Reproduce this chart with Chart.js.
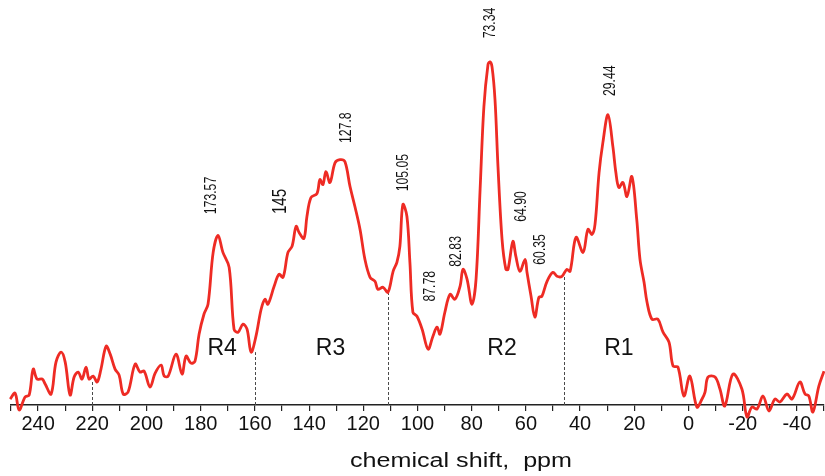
<!DOCTYPE html>
<html>
<head>
<meta charset="utf-8">
<title>13C NMR spectrum</title>
<script src="https://cdn.jsdelivr.net/npm/chart.js@4.4.1/dist/chart.umd.min.js"></script>
<style>
  html, body { margin: 0; padding: 0; background: #ffffff; }
  #nmrChart { display: block; }
</style>
</head>
<body>
<canvas id="nmrChart" width="825" height="476"></canvas>
<script>
// --- data (chemical shift in ppm, intensity in arbitrary units) ---
const shiftPpm = [
    250.3, 248.5, 247.0, 244.8, 243.3, 241.8, 240.4, 238.5, 237.4, 235.2,
    233.4, 231.5, 230.0, 228.2, 226.7, 225.2, 223.8, 222.3, 221.2, 219.7,
    218.2, 216.8, 214.9, 213.4, 211.6, 210.1, 208.6, 206.8, 204.2, 202.4,
    200.9, 198.7, 196.8, 194.6, 193.5, 192.0, 189.1, 186.9, 185.4, 183.6,
    182.1, 180.6, 178.8, 177.3, 175.4, 173.6, 171.8, 169.5, 167.7, 166.2,
    164.4, 162.9, 161.4, 159.6, 157.7, 156.3, 155.2, 152.9, 151.1, 149.6,
    147.8, 146.3, 144.8, 143.7, 141.9, 140.8, 139.3, 137.1, 136.0, 134.9,
    133.8, 132.3, 130.4, 128.6, 126.8, 124.9, 123.1, 121.2, 119.4, 117.5,
    115.7, 114.6, 112.7, 110.9, 109.0, 107.6, 106.5, 105.4, 103.9, 102.8,
    101.7, 100.2, 98.3, 96.1, 94.3, 92.8, 91.7, 89.9, 88.0, 86.2,
    84.3, 83.2, 81.7, 79.9, 78.4, 76.9, 75.5, 74.0, 73.3, 72.5,
    71.4, 70.3, 68.8, 67.4, 66.6, 64.8, 63.7, 62.2, 60.3, 59.6,
    58.1, 56.7, 55.2, 54.1, 52.2, 50.0, 48.5, 46.7, 44.9, 43.7,
    41.5, 38.9, 37.1, 35.6, 34.5, 33.0, 31.6, 29.7, 27.9, 26.8,
    25.7, 24.2, 22.7, 20.9, 19.1, 17.9, 16.4, 15.3, 13.5, 11.3,
    9.4, 7.2, 5.7, 3.9, 1.7, -0.5, -3.1, -5.0, -6.1, -7.2,
    -9.8, -11.6, -13.4, -16.4, -19.7, -21.6, -23.4, -25.3, -27.5, -29.7,
    -31.9, -33.7, -36.3, -38.2, -41.1, -43.0, -44.4, -45.9, -48.1, -50.0
];
const intensity = [
    6, 12, -5, 8, 10, 36, 26, 26, 21, 11,
    43, 53, 43, 10, 28, 33, 26, 38, 26, 29,
    23, 36, 59, 51, 36, 30, 11, 13, 41, 33,
    34, 18, 32, 40, 29, 29, 51, 31, 49, 42,
    44, 71, 91, 101, 153, 170, 153, 138, 76, 73,
    81, 76, 53, 69, 96, 106, 101, 119, 131, 128,
    153, 159, 179, 173, 167, 189, 208, 212, 226, 221,
    234, 223, 243, 246, 244, 219, 199, 176, 146, 128,
    124, 116, 118, 113, 134, 143, 159, 201, 189, 143,
    93, 89, 76, 56, 69, 78, 71, 93, 111, 106,
    119, 136, 126, 101, 126, 216, 299, 341, 344, 339,
    306, 239, 166, 136, 136, 164, 149, 134, 146, 133,
    109, 88, 108, 109, 124, 133, 129, 129, 136, 134,
    168, 153, 176, 171, 181, 233, 263, 291, 259, 233,
    218, 223, 209, 229, 186, 146, 123, 103, 86, 86,
    73, 63, 39, 38, 9, 29, -2, 6, 13, 28,
    28, 16, -1, 31, 16, -12, -2, -4, 9, -6,
    6, 3, 11, 6, 23, 11, 9, -7, 19, 34
];

// peak assignments written on the spectrum
const peakLabels = ['173.57', '145', '127.8', '105.05', '87.78', '82.83', '73.34', '64.90', '60.35', '29.44'];
// spectral regions and the shifts that separate them
const regionLabels = ['R4', 'R3', 'R2', 'R1'];
const boundaryPpm = [220, 160, 111, 46];
const boundaryTop = [24, 53, 113, 129];
// labelled ticks on the shift axis
const tickLabels = [240, 220, 200, 180, 160, 140, 120, 100, 80, 60, 40, 20, 0, -20, -40];

// where the text sits, in axis units (ppm, intensity)
const peakLabelSpots = [
    [176.2, 210], [150.5, 204], [126.4, 278], [105.2, 233], [95.4, 119],
    [85.6, 154], [73.3, 383], [61.8, 199], [54.8, 156], [29.0, 325]
];
const regionLabelSpots = [[172.1, 56], [132.1, 56], [68.8, 56], [25.7, 56]];

const FONT = '"Liberation Sans", Arial, Helvetica, sans-serif';

// Plugin: dashed region dividers, peak values, region names, axis title
const spectrumNotes = {
    id: 'spectrumNotes',
    beforeDatasetsDraw(chart) {
        const { ctx, scales: { x, y } } = chart;
        ctx.save();
        ctx.strokeStyle = '#4a4a4a';
        ctx.lineWidth = 1;
        ctx.setLineDash([3, 2]);
        boundaryPpm.forEach((p, i) => {
            const px = Math.round(x.getPixelForValue(p)) + 0.5;
            ctx.beginPath();
            ctx.moveTo(px, y.getPixelForValue(0));
            ctx.lineTo(px, y.getPixelForValue(boundaryTop[i]));
            ctx.stroke();
        });
        ctx.restore();
    },
    afterDraw(chart) {
        const { ctx, scales: { x, y } } = chart;
        ctx.save();
        ctx.fillStyle = '#111111';
        ctx.textAlign = 'center';
        ctx.textBaseline = 'middle';

        // rotated peak values (narrow lettering)
        peakLabels.forEach((txt, i) => {
            const [p, h] = peakLabelSpots[i];
            ctx.save();
            ctx.translate(x.getPixelForValue(p), y.getPixelForValue(h));
            ctx.rotate(-Math.PI / 2);
            ctx.scale(0.72, 1);
            ctx.font = (txt === '145' ? '21px ' : '17px ') + FONT;
            ctx.fillText(txt, 0, 0);
            ctx.restore();
        });

        // region names
        ctx.font = '23px ' + FONT;
        regionLabels.forEach((txt, i) => {
            const [p, h] = regionLabelSpots[i];
            ctx.fillText(txt, x.getPixelForValue(p), y.getPixelForValue(h));
        });

        // axis title
        const title = 'chemical shift,  ppm';
        ctx.font = '20px ' + FONT;
        const w = ctx.measureText(title).width;
        ctx.translate(461, 467);
        ctx.scale(222 / w, 1);
        ctx.textBaseline = 'alphabetic';
        ctx.fillText(title, 0, 0);
        ctx.restore();
    }
};

window.onload = function () {
    const ctx = document.getElementById('nmrChart').getContext('2d');
    const points = shiftPpm.map((p, i) => ({ x: p, y: intensity[i] }));

    new Chart(ctx, {
        type: 'line',
        data: {
            datasets: [{
                label: 'spectrum',
                data: points,
                borderColor: '#ee2b24',
                borderWidth: 2.8,
                pointRadius: 0,
                tension: 0.35,
                fill: false,
                clip: false
            }]
        },
        options: {
            responsive: false,
            animation: false,
            layout: { padding: { left: 11, right: 0, top: 0, bottom: 39 } },
            scales: {
                x: {
                    type: 'linear',
                    reverse: true,
                    min: -50,
                    max: 250,
                    border: { display: true, color: '#222222', width: 1.5 },
                    grid: {
                        drawOnChartArea: false,
                        drawTicks: true,
                        tickLength: 6,
                        color: '#222222',
                        lineWidth: 1.2
                    },
                    ticks: {
                        stepSize: 10,
                        autoSkip: false,
                        maxRotation: 0,
                        padding: 1,
                        color: '#111111',
                        font: { family: FONT, size: 20 },
                        callback: (v) => tickLabels.includes(v) ? String(v) : ''
                    }
                },
                y: {
                    display: false,
                    min: 0,
                    max: 406
                }
            },
            plugins: {
                legend: { display: false },
                tooltip: { enabled: false }
            }
        },
        plugins: [spectrumNotes]
    });
};
</script>
</body>
</html>
